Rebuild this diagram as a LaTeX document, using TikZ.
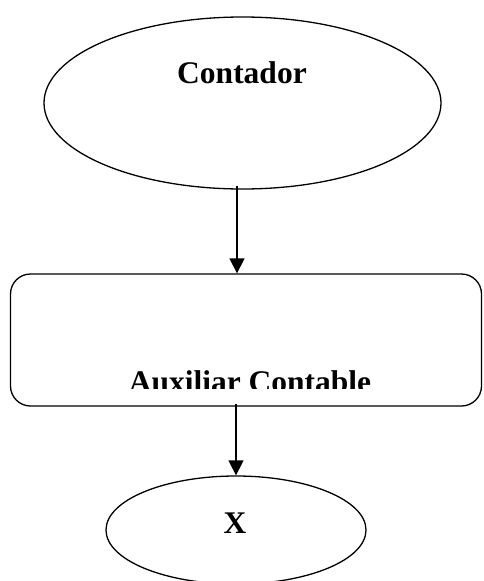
\documentclass[tikz,border=0pt]{standalone}
\usepackage{fontspec}
\setmainfont{Liberation Serif}
\usetikzlibrary{shapes.geometric,arrows.meta}
\tikzset{
  flowline/.style={line width=1.4pt,-{Triangle[length=15pt,width=15pt]}},
  oval/.style={ellipse,draw,line width=1.3pt,inner sep=0pt},
  procbox/.style={rectangle,rounded corners=20pt,draw,line width=1.3pt,inner sep=0pt},
  bigtext/.style={font=\bfseries\fontsize{31.5}{37}\selectfont,inner sep=0pt,anchor=base}
}
\begin{document}
\begin{tikzpicture}[x=1pt,y=-1pt]
\useasboundingbox (0,0) rectangle (483,581);
\clip (0,0) rectangle (483,581);
% start oval
\node[oval,minimum width=397pt,minimum height=172pt] (contador) at (242.5,103) {};
\node[bigtext] (contadorlbl) at (242,83) {Contador};
% process box
\node[procbox,minimum width=471pt,minimum height=132pt] (aux) at (246,340) {};
\begin{scope}
  \clip (0,0) rectangle (483,388);
  \node[bigtext] (auxlbl) at (250,392.5) {Auxiliar Contable};
\end{scope}
% end oval
\node[oval,minimum width=260pt,minimum height=108pt] (x) at (236,530) {};
\node[bigtext] (xlbl) at (235,533) {X};
% connectors
\draw[flowline] ([xshift=-5.5pt,yshift=4pt]contador.south) -- ([xshift=-9pt]aux.north);
\draw[flowline] ([yshift=3pt]aux.south -| x.north) -- (x.north);
\end{tikzpicture}
\end{document}
